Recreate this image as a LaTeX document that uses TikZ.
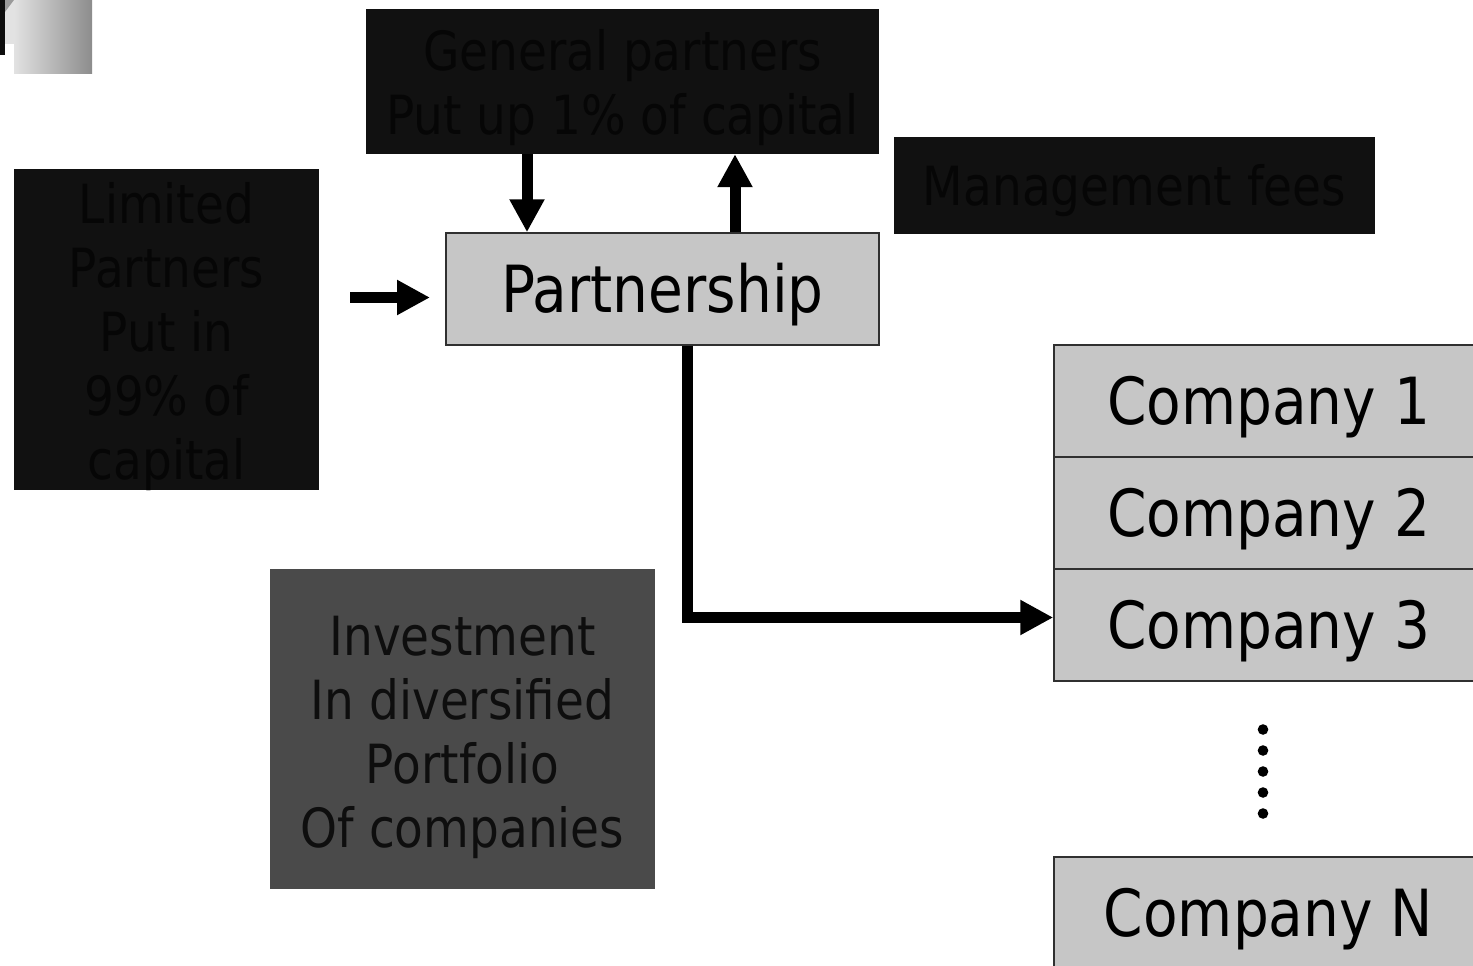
\documentclass[tikz,border=0pt]{standalone}
\usepackage{fontspec}
\setmainfont{DejaVu Sans}[FakeStretch=0.87]
\usetikzlibrary{arrows.meta,calc}
\definecolor{boxgray}{HTML}{C6C6C6}
\definecolor{darkfill}{HTML}{111111}
\definecolor{darktext}{HTML}{060606}
\definecolor{midfill}{HTML}{4A4A4A}
\definecolor{midtext}{HTML}{0E0E0E}
\definecolor{edgegray}{HTML}{303030}
\definecolor{decolight}{HTML}{E2E2E2}
\definecolor{decotri}{HTML}{9A9A9A}
\tikzset{
  lightbox/.style={draw=edgegray, line width=1.5pt, fill=boxgray, inner sep=0pt,
    text=black, text height=47.4pt, text depth=0pt,
    font=\fontsize{65}{72}\selectfont},
  darkbox/.style={fill=darkfill, text=darktext, inner sep=0pt, align=center,
    font=\fontsize{54}{64}\selectfont},
  midbox/.style={fill=midfill, text=midtext, inner sep=0pt, align=center,
    font=\fontsize{54}{64}\selectfont},
  boxtext/.style={fill=none},
  arr/.style={line width=11pt, draw=black, -{Triangle[length=33pt,width=33pt]}},
  dotmark/.style={fill=black}
}
\begin{document}
\begin{tikzpicture}[x=1pt,y=-1pt]
\path[use as bounding box] (0,0) rectangle (1473,966);
\clip (0,0) rectangle (1473,966);
\fill[white] (0,0) rectangle (1473,966);

% corner decoration
\shade[left color=decolight, right color=black!45] (14,0) rectangle (92,74);
\fill[decolight] (5,0) rectangle (14,44);
\fill[decotri] (5,0) -- (14,0) -- (5,12) -- cycle;
\fill[black!95] (0,0) rectangle (5,55);

% boxes
\node[darkbox, minimum width=305pt, minimum height=321pt] (LP) at (166.5,329.5) {};
\node[darkbox, boxtext, yshift=-7pt] (LPt) at (LP.center)
  {Limited\\Partners\\Put in\\99\% of\\capital};
\node[darkbox, minimum width=513pt, minimum height=145pt] (GP) at (622.5,81.5) {};
\node[darkbox, boxtext, yshift=-6pt] (GPt) at (GP.center)
  {General partners\\Put up 1\% of capital};
\node[darkbox, minimum width=481pt, minimum height=97pt, text height=39.4pt, text depth=0pt] (MF) at (1134.5,185.5)
  {Management fees};
\node[lightbox, minimum width=433pt, minimum height=112pt] (P) at (662.5,289) {Partnership};
\node[lightbox, minimum width=429pt, minimum height=112pt] (C1) at (1268.5,401) {Company 1};
\node[lightbox, minimum width=429pt, minimum height=112pt] (C2) at (1268.5,513) {Company 2};
\node[lightbox, minimum width=429pt, minimum height=112pt] (C3) at (1268.5,625) {Company 3};
\node[lightbox, minimum width=429pt, minimum height=112pt] (CN) at (1268.5,913) {Company N};
\node[midbox, minimum width=385pt, minimum height=320pt] (INV) at (462.5,729) {};
\node[midbox, boxtext, yshift=-8pt] (INVt) at (INV.center)
  {Investment\\In diversified\\Portfolio\\Of companies};

% connectors
\coordinate (lpstart) at (350,297.5);
\coordinate (lpend) at (430,297.5);
\coordinate (xa) at (527,0);
\coordinate (xb) at (735,0);
\coordinate (xc) at (687,0);
\draw[arr] (lpstart) -- (lpend);
\draw[arr] (xa |- GP.south) -- (xa |- P.north);
\draw[arr] (xb |- P.north) -- (xb |- GP.south);
\draw[arr] (xc |- P.south) |- ([yshift=7.5pt]C3.west);

% ellipsis dots
\foreach \yy in {729.5,750.5,771.5,792.5,813.5}
  \fill[dotmark] (1263,\yy) circle[radius=5.3];
\end{tikzpicture}
\end{document}
